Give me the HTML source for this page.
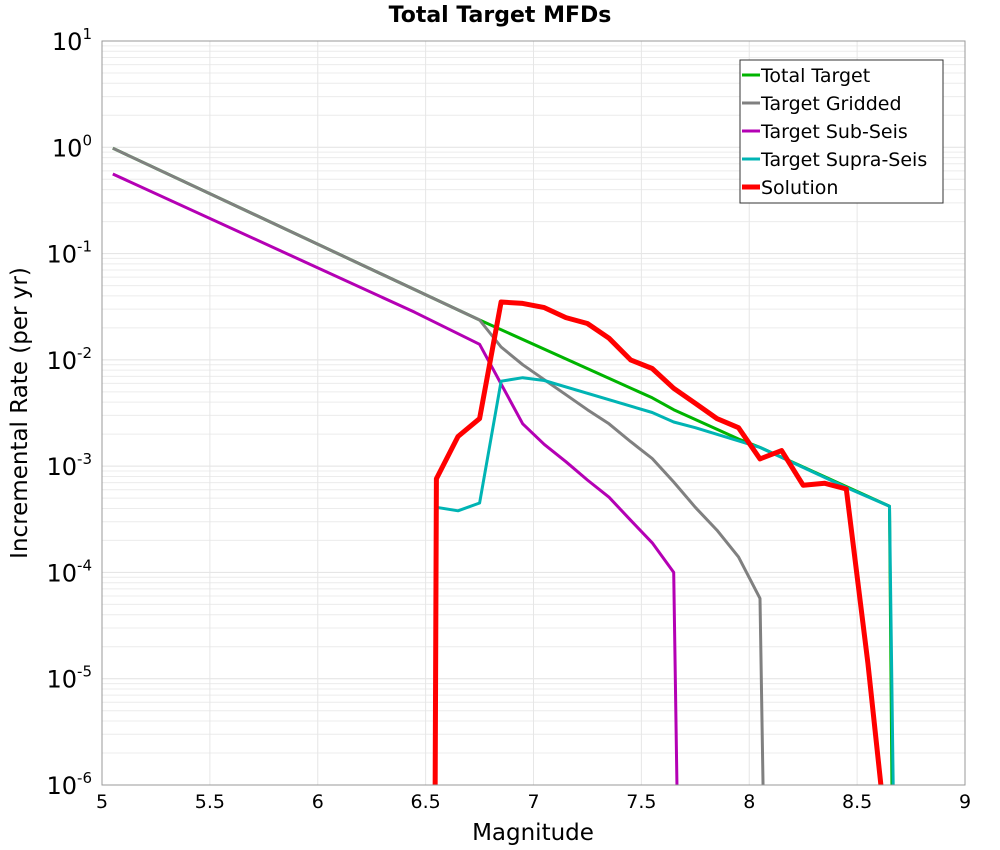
<!DOCTYPE html>
<html><head><meta charset="utf-8"><style>
html,body{margin:0;padding:0;background:#fff;width:1000px;height:850px;overflow:hidden;}
svg{display:block;font-family:"Liberation Sans","DejaVu Sans",sans-serif;overflow:hidden;}
</style></head><body>
<svg id="chart" width="1000" height="850" viewBox="0 0 1000 850">
<rect width="1000" height="850" fill="#fff"/>
<text x="500" y="22" text-anchor="middle" font-size="22" font-weight="bold" font-family="DejaVu Sans, sans-serif">Total Target MFDs</text>
<g id="grid"></g>
<g id="series" clip-path="url(#clip)"></g>
<defs><clipPath id="clip"><rect x="102" y="41" width="863" height="744"/></clipPath></defs>
<rect x="102" y="41" width="863" height="744" fill="none" stroke="#999" stroke-width="1"/>
<g id="axes"></g>
<text x="533" y="840" text-anchor="middle" font-size="23" font-family="DejaVu Sans, sans-serif">Magnitude</text>
<text transform="translate(27,413) rotate(-90)" text-anchor="middle" font-size="23" font-family="DejaVu Sans, sans-serif">Incremental Rate (per yr)</text>
<g id="legend"></g>
</svg>
<script>
const xTicks = [5, 5.5, 6, 6.5, 7, 7.5, 8, 8.5, 9];
const yExps = [1, 0, -1, -2, -3, -4, -5, -6];
const seriesNames = ["Total Target", "Target Gridded", "Target Sub-Seis", "Target Supra-Seis", "Solution"];
const totalMags = [5.05, 6.75, 7.55, 7.65, 7.95, 8.05, 8.65, 8.67];
const totalVals = [0.98, 0.0237, 0.0044, 0.0034, 0.0018, 0.0015, 0.00042, 1e-8];
const griddedMags = [5.05, 6.75, 6.85, 6.95, 7.05, 7.15, 7.25, 7.35, 7.45, 7.55, 7.65, 7.75, 7.85, 7.95, 8.05, 8.08];
const griddedVals = [0.98, 0.0237, 0.0132, 0.009, 0.0065, 0.0047, 0.0034, 0.0025, 0.0017, 0.00118, 0.00071, 0.00041, 0.00025, 0.00014, 0.000057, 1e-8];
const subMags = [5.05, 6.45, 6.75, 6.95, 7.05, 7.15, 7.25, 7.35, 7.45, 7.55, 7.65, 7.68];
const subVals = [0.56, 0.028, 0.014, 0.0025, 0.0016, 0.0011, 0.00074, 0.00051, 0.00031, 0.00019, 0.0001, 1e-8];
const supraMags = [6.55, 6.65, 6.75, 6.85, 6.95, 7.05, 7.55, 7.65, 7.75, 8.05, 8.45, 8.65, 8.68];
const supraVals = [0.00041, 0.00038, 0.00045, 0.0063, 0.0068, 0.0064, 0.0032, 0.0026, 0.0023, 0.0015, 0.00063, 0.00042, 1e-8];
const solMags = [6.54, 6.55, 6.65, 6.75, 6.85, 6.95, 7.05, 7.15, 7.25, 7.35, 7.45, 7.55, 7.65, 7.75, 7.85, 7.95, 8.05, 8.15, 8.25, 8.35, 8.45, 8.55, 8.61, 8.62];
const solVals = [1e-8, 0.00076, 0.0019, 0.0028, 0.035, 0.034, 0.031, 0.025, 0.022, 0.016, 0.010, 0.0083, 0.0054, 0.0039, 0.0028, 0.0023, 0.00117, 0.0014, 0.00066, 0.00069, 0.00061, 0.000014, 0.000001, 1e-8];

const NS = "http://www.w3.org/2000/svg";
const X0 = 102, X1 = 965, Y0 = 41, Y1 = 785;
const xScale = m => X0 + (m - 5) / 4 * (X1 - X0);
const yScale = v => Y0 + (1 - Math.log10(v)) / 7 * (Y1 - Y0);
function mk(tag, attrs, parent) { const e = document.createElementNS(NS, tag); for (const k in attrs) e.setAttribute(k, attrs[k]); parent.appendChild(e); return e; }

const grid = document.getElementById("grid");
for (let e = -6; e < 1; e++) {
  for (let k = 1; k <= 9; k++) {
    const y = yScale(k * Math.pow(10, e));
    const gl = mk("line", {x1: X0, x2: X1, y1: y, y2: y, stroke: k === 1 ? "#e2e2e2" : "#ececec", "stroke-width": 1}, grid);
    
    
  }
}
xTicks.forEach(t => {
  const x = xScale(t);
  const gl = mk("line", {x1: x, x2: x, y1: Y0, y2: Y1, stroke: "#e6e6e6", "stroke-width": 1}, grid);
  
  
});

const axes = document.getElementById("axes");
xTicks.forEach(t => {
  const x = xScale(t);
  const tx = mk("text", {x: x, y: 808, "text-anchor": "middle", "font-size": 19, "font-family": "DejaVu Sans, sans-serif"}, axes);
  tx.textContent = String(t);
  
  
});
yExps.forEach(e => {
  const y = yScale(Math.pow(10, e));
  const tx = mk("text", {x: 92, y: y + 9, "text-anchor": "end", "font-size": 24, "font-family": "DejaVu Sans, sans-serif"}, axes);
  
  
  const base = mk("tspan", {}, tx); base.textContent = "10";
  const sup = mk("tspan", {dy: -11, "font-size": 15}, tx); sup.textContent = String(e);
});

const colors = ["#00b400", "#808080", "#b400b4", "#00b4b4", "#ff0000"];
const widths = [3, 3, 3, 3, 5];
const data = [[totalMags, totalVals], [griddedMags, griddedVals], [subMags, subVals], [supraMags, supraVals], [solMags, solVals]];
const order = [0, 1, 2, 3, 4];
const sg = document.getElementById("series");
const names = ["total-target-line", "target-gridded-line", "target-sub-seis-line", "target-supra-seis-line", "solution-line"];
order.forEach(i => {
  const [ms, vs] = data[i];
  const pts = ms.map((m, j) => xScale(m).toFixed(1) + "," + yScale(vs[j]).toFixed(1)).join(" ");
  const pl = mk("polyline", {points: pts, fill: "none", stroke: colors[i], "stroke-width": widths[i], "stroke-linejoin": "round"}, sg);
  
  
});

const lg = document.getElementById("legend");
const box = mk("rect", {x: 740, y: 60, width: 203, height: 143, fill: "#fff", stroke: "#333", "stroke-width": 1}, lg);


seriesNames.forEach((n, i) => {
  const y = 75 + i * 28;
  const ln = mk("line", {x1: 742, x2: 760, y1: y, y2: y, stroke: colors[i], "stroke-width": widths[i]}, lg);
  
  
  const tx = mk("text", {x: 761, y: y + 7, "font-size": 19, "font-family": "DejaVu Sans, sans-serif"}, lg);
  tx.textContent = n;
  
  
});
</script>
</body></html>
